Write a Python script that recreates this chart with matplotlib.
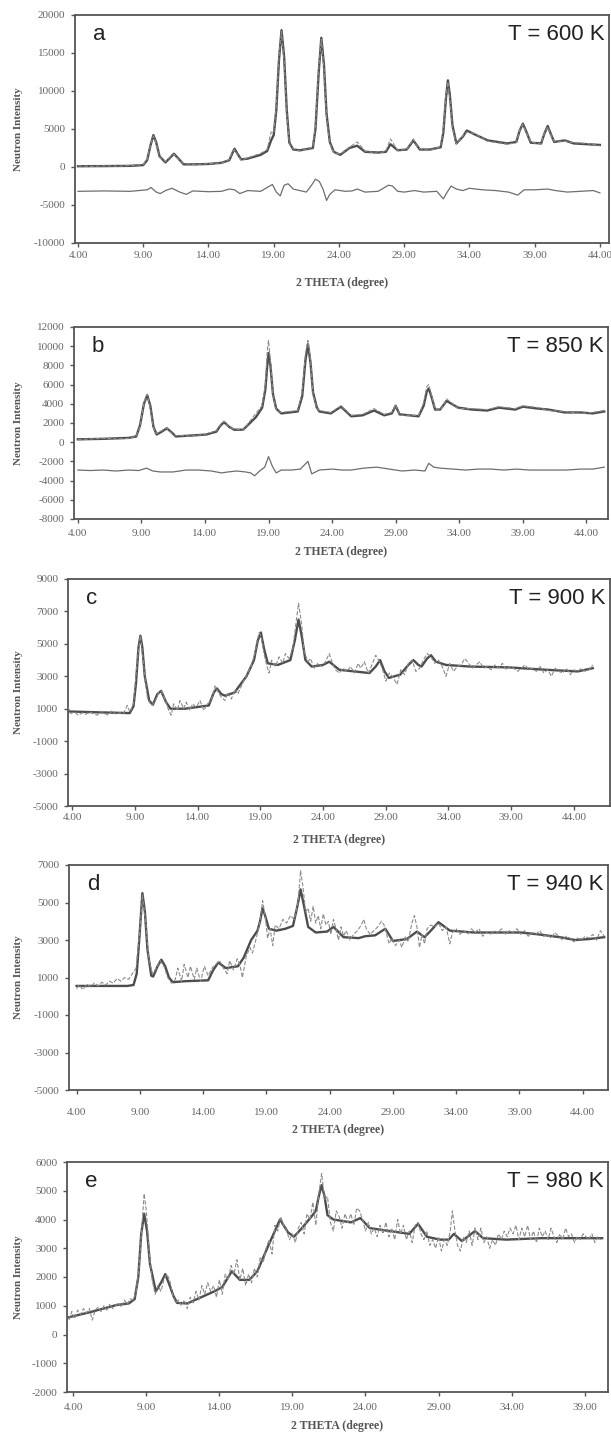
import matplotlib.pyplot as plt
from matplotlib.ticker import FuncFormatter

plt.rcParams['font.family'] = ['Liberation Serif', 'DejaVu Serif']
plt.rcParams['axes.unicode_minus'] = False

# ---------------- panel a : T = 600 K ----------------  (2theta, intensity) pairs
a_calc = [(4.0, 100), (6.0, 120), (8.0, 150), (9.0, 250), (9.3, 900), (9.55, 2800), (9.78, 4200),
          (10.0, 3200), (10.25, 1400), (10.7, 600), (11.05, 1200), (11.35, 1750), (11.7, 1100),
          (12.1, 350), (13.0, 350), (14.0, 400), (15.0, 550), (15.6, 900), (15.85, 1900), (16.0, 2400),
          (16.2, 1800), (16.5, 1000), (17.0, 1100), (18.0, 1600), (18.5, 2100), (18.8, 3500),
          (19.0, 4200), (19.2, 7500), (19.4, 14000), (19.6, 18000), (19.8, 14500), (20.0, 7500),
          (20.2, 3200), (20.5, 2300), (21.0, 2200), (22.0, 2500), (22.2, 5000), (22.45, 12500),
          (22.65, 17000), (22.85, 13500), (23.05, 7000), (23.3, 3300), (23.6, 2000), (24.1, 1600),
          (24.8, 2500), (25.4, 2800), (26.0, 2000), (27.0, 1900), (27.6, 2000), (27.95, 3000),
          (28.5, 2200), (29.2, 2300), (29.5, 3000), (29.7, 3500), (29.95, 2900), (30.2, 2300),
          (31.0, 2300), (31.8, 2600), (32.0, 4500), (32.2, 9000), (32.35, 11400), (32.5, 9500),
          (32.7, 5500), (33.0, 3100), (33.5, 4000), (33.8, 4800), (34.4, 4300), (35.4, 3500),
          (36.9, 3100), (37.6, 3300), (37.85, 4800), (38.1, 5700), (38.35, 4700), (38.7, 3200),
          (39.5, 3100), (39.75, 4400), (40.0, 5400), (40.25, 4300), (40.5, 3300), (41.3, 3500),
          (42.0, 3100), (43.0, 3000), (44.0, 2900)]
a_obs = [(4.0, 150), (5.0, 80), (6.0, 150), (7.0, 100), (8.0, 200), (9.0, 300), (9.3, 1000),
         (9.55, 2900), (9.78, 4100), (10.0, 3100), (10.25, 1300), (10.7, 700), (11.05, 1300),
         (11.35, 1700), (11.7, 1000), (12.1, 450), (13.0, 300), (14.0, 450), (15.0, 500), (15.6, 1000),
         (15.85, 2000), (16.0, 2300), (16.2, 1700), (16.5, 900), (17.0, 1200), (18.0, 1800),
         (18.5, 2300), (18.8, 4600), (19.0, 4500), (19.2, 8000), (19.4, 14500), (19.6, 17800),
         (19.8, 14000), (20.0, 7300), (20.2, 3000), (20.5, 2400), (21.0, 2100), (22.0, 2600),
         (22.2, 5400), (22.45, 13000), (22.65, 16800), (22.85, 13000), (23.05, 6500), (23.3, 3100),
         (23.6, 1900), (24.1, 1700), (24.8, 2600), (25.4, 3300), (26.0, 2100), (27.0, 1800),
         (27.6, 2100), (27.95, 3700), (28.5, 2200), (29.2, 2300), (29.5, 3100), (29.7, 3700),
         (29.95, 2800), (30.2, 2400), (31.0, 2200), (31.8, 2700), (32.0, 5000), (32.2, 9400),
         (32.35, 11200), (32.5, 9000), (32.7, 5200), (33.0, 3000), (33.5, 4100), (33.8, 4600),
         (34.4, 4400), (35.4, 3400), (36.9, 3000), (37.6, 3200), (37.85, 4900), (38.1, 5600),
         (38.35, 4600), (38.7, 3300), (39.5, 3000), (39.75, 4500), (40.0, 5300), (40.25, 4200),
         (40.5, 3400), (41.3, 3400), (42.0, 3200), (43.0, 3100), (44.0, 2800)]
a_diff = [(4.0, -3200), (6.0, -3150), (8.0, -3200), (9.3, -3000), (9.6, -2700), (10.0, -3300),
          (10.3, -3500), (10.7, -3100), (11.2, -2800), (11.8, -3300), (12.3, -3600), (12.8, -3150),
          (14.0, -3250), (15.0, -3200), (15.6, -2900), (16.0, -3000), (16.4, -3500), (17.0, -3100),
          (18.0, -3200), (18.6, -2600), (18.9, -2300), (19.2, -3300), (19.5, -3800), (19.8, -2400),
          (20.1, -2200), (20.5, -2900), (21.0, -3100), (21.5, -3300), (21.9, -2400), (22.2, -1600),
          (22.5, -1900), (22.8, -3000), (23.05, -4400), (23.3, -3600), (23.7, -3000), (24.5, -3200),
          (25.0, -3150), (25.4, -2900), (26.0, -3300), (27.0, -3200), (27.8, -2400), (28.1, -2500),
          (28.5, -3200), (29.0, -3300), (29.8, -3100), (30.5, -3300), (31.5, -3200), (32.0, -4200),
          (32.3, -3300), (32.6, -2500), (33.0, -2900), (33.5, -3100), (34.0, -2800), (35.0, -3000),
          (36.0, -3100), (37.0, -3300), (37.7, -3700), (38.2, -3000), (39.0, -3000), (40.0, -2900),
          (40.6, -3100), (41.5, -3300), (42.5, -3200), (43.5, -3100), (44.0, -3400)]

# ---------------- panel b : T = 850 K ----------------
b_calc = [(4.0, 300), (6.0, 350), (8.0, 450), (8.6, 600), (8.9, 1800), (9.2, 4000), (9.46, 4900),
          (9.7, 3800), (9.95, 1600), (10.2, 800), (10.6, 1100), (11.0, 1450), (11.4, 1000), (11.7, 600),
          (13.0, 700), (14.1, 800), (14.9, 1100), (15.2, 1700), (15.5, 2100), (15.9, 1600), (16.3, 1300),
          (17.0, 1300), (18.0, 2600), (18.5, 3600), (18.75, 5500), (18.9, 8000), (19.0, 9300),
          (19.15, 8000), (19.35, 5000), (19.6, 3500), (20.0, 3000), (21.3, 3200), (21.65, 4800),
          (21.9, 8500), (22.1, 10200), (22.3, 8300), (22.5, 5200), (22.8, 3600), (23.0, 3200),
          (23.9, 3000), (24.7, 3700), (25.5, 2700), (26.4, 2800), (27.3, 3300), (28.1, 2800),
          (28.7, 3000), (29.0, 3800), (29.3, 2900), (30.8, 2700), (31.2, 3800), (31.45, 5300),
          (31.6, 5600), (31.8, 4800), (32.1, 3400), (32.5, 3400), (33.0, 4300), (33.4, 4000),
          (33.9, 3600), (35.0, 3400), (36.2, 3300), (37.1, 3600), (38.4, 3400), (39.0, 3700),
          (40.2, 3500), (41.0, 3400), (42.3, 3100), (43.5, 3100), (44.5, 3000), (45.4, 3200)]
b_obs = [(4.0, 250), (5.0, 350), (6.0, 400), (7.0, 350), (8.0, 400), (8.6, 650), (8.9, 1700),
         (9.2, 4100), (9.46, 5000), (9.7, 3600), (9.95, 1500), (10.2, 900), (10.6, 1200), (11.0, 1500),
         (11.4, 900), (11.7, 700), (13.0, 650), (14.1, 850), (14.9, 1200), (15.2, 1800), (15.5, 2200),
         (15.9, 1500), (16.3, 1400), (17.0, 1250), (18.0, 3000), (18.5, 3800), (18.75, 6000),
         (18.9, 9500), (19.0, 10600), (19.15, 8500), (19.35, 4800), (19.6, 3400), (20.0, 3100),
         (21.3, 3300), (21.65, 5200), (21.9, 9200), (22.1, 10600), (22.3, 8600), (22.5, 5000),
         (22.8, 3500), (23.0, 3300), (23.9, 3100), (24.7, 3800), (25.5, 2800), (26.4, 2900),
         (27.3, 3500), (28.1, 2900), (28.7, 3100), (29.0, 3900), (29.3, 2800), (30.8, 2800),
         (31.2, 4100), (31.45, 5800), (31.6, 6000), (31.8, 5000), (32.1, 3500), (32.5, 3300),
         (33.0, 4500), (33.4, 4100), (33.9, 3500), (35.0, 3500), (36.2, 3400), (37.1, 3700),
         (38.4, 3500), (39.0, 3800), (40.2, 3600), (41.0, 3300), (42.3, 3200), (43.5, 3000),
         (44.5, 3100), (45.4, 3300)]
b_diff = [(4.0, -2900), (5.0, -2950), (6.0, -2900), (7.0, -3000), (8.0, -2900), (8.8, -2950),
          (9.4, -2700), (9.9, -3000), (10.5, -3100), (11.5, -3100), (12.5, -2900), (13.5, -2900),
          (14.5, -3000), (15.3, -3200), (15.8, -3100), (16.5, -3000), (17.2, -3100), (17.6, -3200),
          (17.9, -3500), (18.3, -3000), (18.7, -2600), (19.0, -1500), (19.3, -2500), (19.6, -3200),
          (20.0, -2900), (20.8, -2900), (21.5, -2800), (22.1, -2000), (22.4, -3300), (23.0, -2900),
          (24.0, -2800), (24.8, -2900), (25.5, -2900), (26.5, -2700), (27.5, -2600), (28.5, -2800),
          (29.5, -3000), (30.5, -2900), (31.3, -3000), (31.6, -2200), (32.0, -2600), (32.5, -2700),
          (33.5, -2800), (34.5, -2900), (35.5, -2800), (36.5, -2800), (37.5, -2900), (38.5, -2800),
          (39.5, -2900), (40.5, -2900), (41.5, -2900), (42.5, -2900), (43.5, -2800), (44.5, -2800),
          (45.4, -2600)]

# ---------------- panel c : T = 900 K ----------------
c_calc = [(3.7, 830), (6.0, 780), (8.6, 730), (8.9, 1150), (9.1, 2600), (9.3, 4800), (9.45, 5500),
          (9.6, 4800), (9.8, 3000), (10.15, 1500), (10.45, 1250), (10.8, 1900), (11.1, 2100),
          (11.5, 1400), (11.85, 1000), (13.0, 1000), (14.9, 1200), (15.3, 2000), (15.55, 2250),
          (15.9, 1900), (16.2, 1800), (16.95, 2000), (17.9, 3000), (18.5, 4000), (18.8, 5200),
          (19.05, 5700), (19.3, 4700), (19.6, 3800), (20.4, 3700), (21.4, 4000), (21.75, 5200),
          (22.05, 6500), (22.3, 5500), (22.6, 4000), (23.1, 3600), (24.0, 3700), (24.5, 3900),
          (25.3, 3400), (26.5, 3300), (27.7, 3200), (28.2, 3600), (28.55, 4000), (28.9, 3300),
          (29.25, 2900), (30.15, 3100), (30.8, 3700), (31.2, 4000), (31.6, 3700), (31.85, 3600),
          (32.3, 4100), (32.6, 4300), (33.0, 3900), (33.8, 3700), (35.7, 3600), (38.75, 3550),
          (41.8, 3400), (44.3, 3300), (45.5, 3500)]
c_obs_x = [3.7, 3.9, 4.2, 4.5, 4.8, 5.1, 5.4, 5.7, 6.0, 6.3, 6.6, 6.9, 7.2, 7.5, 7.8, 8.1, 8.4, 8.6,
           8.9, 9.2, 9.45, 9.7, 10.0, 10.3, 10.6, 10.9, 11.1, 11.4, 11.7, 11.9, 12.1, 12.4, 12.6, 12.9,
           13.1, 13.4, 13.6, 13.9, 14.2, 14.5, 14.8, 15.1, 15.4, 15.6, 15.9, 16.2, 16.4, 16.7, 17.0,
           17.2, 17.5, 17.8, 18.0, 18.3, 18.6, 18.9, 19.1, 19.3, 19.5, 19.7, 19.9, 20.2, 20.5, 20.8,
           21.0, 21.3, 21.6, 21.8, 22.05, 22.3, 22.5, 22.8, 23.0, 23.3, 23.6, 23.9, 24.2, 24.5, 24.8,
           25.0, 25.3, 25.6, 25.9, 26.2, 26.5, 26.8, 27.0, 27.3, 27.6, 27.9, 28.2, 28.5, 28.8, 29.0,
           29.3, 29.6, 29.9, 30.2, 30.5, 30.8, 31.1, 31.4, 31.7, 32.0, 32.3, 32.6, 32.9, 33.2, 33.5,
           33.8, 34.1, 34.4, 34.7, 35.0, 35.3, 35.6, 35.9, 36.2, 36.5, 36.8, 37.1, 37.4, 37.7, 38.0,
           38.3, 38.6, 38.9, 39.2, 39.5, 39.8, 40.1, 40.4, 40.7, 41.0, 41.3, 41.6, 41.9, 42.2, 42.5,
           42.8, 43.1, 43.4, 43.7, 44.0, 44.3, 44.6, 44.9, 45.2, 45.5]
c_obs_y = [1100, 700, 800, 600, 750, 650, 800, 700, 600, 850, 700, 600, 900, 650, 750, 700, 1200, 800,
           1300, 4000, 5500, 3800, 1700, 1200, 1400, 2000, 2100, 1600, 900, 600, 1300, 900, 1500, 1000,
           1400, 900, 1300, 1100, 1500, 900, 1300, 1500, 2400, 2100, 1700, 1500, 2000, 1600, 2200,
           1900, 2400, 2900, 3200, 3700, 4500, 5700, 5400, 4400, 3700, 3200, 4000, 3600, 4200, 3800,
           4400, 4100, 4700, 6000, 7500, 6200, 4500, 3900, 4100, 3500, 3800, 3600, 3900, 4400, 3700,
           3400, 3200, 3500, 3300, 3600, 3200, 3800, 3500, 3900, 3200, 3700, 4300, 3900, 3300, 2700,
           3200, 2900, 2500, 3400, 3100, 3800, 4000, 3300, 3500, 4000, 4400, 4200, 3800, 4000, 3600,
           3000, 3800, 3300, 3600, 3700, 4100, 3800, 3500, 3700, 3900, 3500, 3600, 3400, 3700, 3500,
           3800, 3400, 3600, 3500, 3300, 3500, 3700, 3400, 3500, 3300, 3600, 3200, 3400, 3000, 3500,
           3300, 3200, 3500, 3100, 3400, 3300, 3500, 3300, 3400, 3700]

# ---------------- panel d : T = 940 K ----------------
d_calc = [(4.0, 550), (6.0, 550), (8.0, 550), (8.5, 600), (8.75, 1200), (8.95, 3000), (9.2, 5500),
          (9.4, 4500), (9.6, 2500), (9.9, 1100), (10.05, 1050), (10.4, 1600), (10.7, 1950), (11.0, 1600),
          (11.3, 1000), (11.6, 750), (12.5, 800), (14.4, 850), (14.8, 1400), (15.2, 1800), (15.8, 1500),
          (16.75, 1600), (17.2, 2050), (17.8, 3000), (18.3, 3500), (18.5, 4000), (18.7, 4700),
          (18.9, 4300), (19.2, 3600), (19.8, 3500), (20.5, 3600), (21.1, 3750), (21.45, 4800),
          (21.7, 5700), (21.95, 4900), (22.3, 3700), (22.9, 3400), (23.8, 3450), (24.3, 3700),
          (25.1, 3150), (26.3, 3100), (26.8, 3200), (27.6, 3250), (28.4, 3600), (29.0, 2950),
          (30.1, 3050), (30.9, 3450), (31.5, 3150), (32.0, 3500), (32.6, 3950), (33.5, 3500),
          (35.4, 3400), (37.0, 3400), (39.1, 3400), (40.5, 3300), (42.2, 3150), (43.4, 3000),
          (44.5, 3050), (45.7, 3150)]
d_obs_x = [4.0, 4.2, 4.5, 4.8, 5.1, 5.4, 5.7, 6.0, 6.3, 6.6, 6.9, 7.2, 7.5, 7.8, 8.1, 8.4, 8.7, 9.0,
           9.2, 9.45, 9.7, 10.0, 10.3, 10.6, 10.9, 11.2, 11.5, 11.8, 12.0, 12.3, 12.5, 12.8, 13.0, 13.3,
           13.5, 13.8, 14.1, 14.4, 14.7, 15.0, 15.3, 15.6, 15.9, 16.1, 16.4, 16.7, 16.9, 17.1, 17.4,
           17.7, 17.9, 18.2, 18.5, 18.7, 18.9, 19.1, 19.3, 19.5, 19.7, 20.0, 20.3, 20.6, 20.9, 21.2,
           21.5, 21.7, 21.9, 22.1, 22.3, 22.5, 22.7, 22.9, 23.1, 23.3, 23.5, 23.7, 23.9, 24.1, 24.3,
           24.5, 24.7, 24.9, 25.1, 25.3, 25.6, 25.9, 26.2, 26.5, 26.7, 26.9, 27.2, 27.5, 27.8, 28.1,
           28.3, 28.5, 28.7, 28.9, 29.2, 29.5, 29.7, 30.0, 30.2, 30.5, 30.7, 30.9, 31.1, 31.3, 31.5,
           31.7, 32.0, 32.3, 32.6, 32.9, 33.2, 33.5, 33.7, 34.0, 34.3, 34.6, 34.9, 35.2, 35.5, 35.8,
           36.1, 36.4, 36.7, 37.0, 37.3, 37.6, 37.9, 38.2, 38.5, 38.8, 39.1, 39.4, 39.7, 40.0, 40.3,
           40.6, 40.9, 41.2, 41.5, 41.8, 42.1, 42.4, 42.7, 43.0, 43.3, 43.6, 43.9, 44.2, 44.5, 44.8,
           45.1, 45.4, 45.7]
d_obs_y = [400, 600, 350, 650, 500, 700, 550, 750, 600, 800, 700, 950, 800, 1000, 900, 1200, 1500, 3500,
           5400, 4000, 2000, 1200, 1500, 1900, 1600, 1000, 700, 900, 1500, 800, 1700, 1000, 1600, 900,
           1500, 800, 1600, 1100, 1500, 1700, 1900, 1500, 1200, 1900, 1400, 2000, 1700, 1000, 2100,
           2600, 2300, 3100, 4000, 5100, 4300, 3100, 3600, 2700, 3800, 3600, 4100, 3900, 4300, 4100,
           5000, 6700, 5800, 4500, 4700, 4000, 4800, 3900, 4300, 3600, 4400, 3800, 4000, 3300, 4100,
           3600, 3000, 3700, 3200, 3500, 3000, 3300, 3500, 3800, 4100, 3600, 3300, 3500, 3700, 4000,
           3800, 3300, 2800, 3100, 2700, 3000, 2600, 3200, 2900, 3900, 4300, 3700, 2600, 3300, 2800,
           3600, 3800, 3700, 3900, 3500, 3700, 2800, 3400, 3600, 3300, 3500, 3300, 3600, 3400, 3600,
           3200, 3400, 3300, 3500, 3400, 3600, 3300, 3500, 3400, 3600, 3300, 3500, 3200, 3400, 3300,
           3500, 3200, 3300, 3100, 3400, 3200, 3000, 3200, 3100, 2900, 3100, 3000, 3200, 3100, 3300,
           3000, 3500, 3200]

# ---------------- panel e : T = 980 K ----------------
e_calc = [(3.7, 600), (5.1, 770), (7.0, 1030), (7.8, 1080), (8.2, 1230), (8.45, 2000), (8.65, 3500),
          (8.85, 4200), (9.05, 3600), (9.25, 2450), (9.65, 1500), (10.0, 1800), (10.3, 2100),
          (10.6, 1700), (10.85, 1350), (11.1, 1100), (11.8, 1080), (13.65, 1500), (14.2, 1650),
          (14.85, 2200), (15.4, 1900), (16.05, 1900), (16.6, 2200), (17.4, 3150), (17.8, 3600),
          (18.15, 4000), (18.7, 3550), (19.1, 3400), (19.65, 3700), (20.3, 4100), (20.6, 4300),
          (20.8, 4800), (21.0, 5200), (21.2, 4800), (21.4, 4150), (21.8, 4000), (23.0, 3900),
          (23.65, 4050), (24.3, 3700), (25.65, 3600), (27.0, 3500), (27.6, 3850), (28.2, 3400),
          (29.1, 3300), (29.7, 3300), (30.05, 3500), (30.6, 3250), (31.5, 3600), (32.05, 3350),
          (33.65, 3300), (36.0, 3350), (38.0, 3350), (40.2, 3350)]
e_obs_x = [3.7, 3.9, 4.1, 4.3, 4.5, 4.7, 4.9, 5.1, 5.3, 5.5, 5.7, 5.9, 6.1, 6.3, 6.5, 6.7, 6.9, 7.1,
           7.3, 7.5, 7.7, 7.9, 8.1, 8.3, 8.5, 8.7, 8.85, 9.0, 9.2, 9.4, 9.6, 9.8, 10.0, 10.2, 10.4,
           10.6, 10.8, 11.0, 11.2, 11.4, 11.6, 11.8, 12.0, 12.2, 12.4, 12.6, 12.8, 13.0, 13.2, 13.4,
           13.6, 13.8, 14.0, 14.2, 14.4, 14.6, 14.8, 15.0, 15.2, 15.4, 15.6, 15.8, 16.0, 16.2, 16.4,
           16.6, 16.8, 17.0, 17.2, 17.4, 17.6, 17.8, 18.0, 18.2, 18.4, 18.6, 18.8, 19.0, 19.2, 19.4,
           19.6, 19.8, 20.0, 20.2, 20.4, 20.6, 20.8, 21.0, 21.2, 21.4, 21.6, 21.8, 22.0, 22.2, 22.4,
           22.6, 22.8, 23.0, 23.2, 23.4, 23.6, 23.8, 24.0, 24.2, 24.4, 24.6, 24.8, 25.0, 25.2, 25.4,
           25.6, 25.8, 26.0, 26.2, 26.4, 26.6, 26.8, 27.0, 27.2, 27.4, 27.6, 27.8, 28.0, 28.2, 28.4,
           28.6, 28.8, 29.0, 29.2, 29.4, 29.6, 29.8, 29.95, 30.1, 30.3, 30.5, 30.7, 30.9, 31.1, 31.3,
           31.5, 31.7, 31.9, 32.1, 32.3, 32.5, 32.7, 32.9, 33.1, 33.3, 33.5, 33.7, 33.9, 34.1, 34.3,
           34.5, 34.7, 34.9, 35.1, 35.3, 35.5, 35.7, 35.9, 36.1, 36.3, 36.5, 36.7, 36.9, 37.1, 37.3,
           37.5, 37.7, 37.9, 38.1, 38.3, 38.5, 38.7, 38.9, 39.1, 39.3, 39.5, 39.7, 39.9, 40.1]
e_obs_y = [500, 800, 550, 850, 700, 900, 750, 900, 500, 850, 950, 800, 1000, 850, 1050, 900, 1000, 1100,
           950, 1200, 1050, 1250, 1200, 1500, 2300, 3800, 4900, 4300, 2800, 1900, 1400, 1700, 1500,
           1900, 2100, 1900, 1400, 1100, 1200, 1000, 1200, 900, 1300, 1100, 1500, 1200, 1700, 1400,
           1800, 1500, 1700, 1300, 1900, 1400, 2100, 1900, 2400, 2100, 2600, 1900, 2300, 1700, 2100,
           1800, 2300, 2000, 2700, 2500, 3000, 3300, 2800, 3800, 3600, 4100, 3800, 3600, 3300, 3500,
           3200, 3700, 3900, 3500, 4200, 4000, 4600, 3800, 4900, 5600, 4700, 4800, 3900, 3600, 4300,
           4100, 3700, 4200, 3900, 4200, 3800, 4400, 4300, 4000, 3600, 3900, 3500, 3700, 3400, 3800,
           3500, 3900, 3400, 3700, 3300, 4000, 3500, 3800, 3300, 3600, 3200, 3800, 3900, 3500, 3300,
           3600, 3100, 3300, 3000, 3400, 2900, 3300, 3100, 3600, 4300, 3700, 3100, 2900, 3400, 3200,
           3600, 3100, 3700, 3300, 3700, 3200, 3400, 3000, 3300, 3100, 3500, 3300, 3600, 3400, 3700,
           3500, 3800, 3300, 3700, 3400, 3800, 3300, 3600, 3200, 3700, 3400, 3600, 3300, 3700, 3400,
           3200, 3500, 3300, 3700, 3400, 3500, 3200, 3400, 3300, 3500, 3400, 3300, 3500, 3200, 3400,
           3300]

panels = [
    dict(letter='a', temp='T = 600 K', calc=list(zip(*a_calc)), obs=list(zip(*a_obs)),
         diff=list(zip(*a_diff)), xlim=(3.77, 44.7), ylim=(-10000, 20000), ystep=5000,
         xticks=[4, 9, 14, 19, 24, 29, 34, 39, 44], box=(75, 15, 609, 243), tpad=3, xlab_y=34),
    dict(letter='b', temp='T = 850 K', calc=list(zip(*b_calc)), obs=list(zip(*b_obs)),
         diff=list(zip(*b_diff)), xlim=(3.7, 45.7), ylim=(-8000, 12000), ystep=2000,
         xticks=[4, 9, 14, 19, 24, 29, 34, 39, 44], box=(74, 327, 608, 519), tpad=4, xlab_y=27),
    dict(letter='c', temp='T = 900 K', calc=list(zip(*c_calc)), obs=(c_obs_x, c_obs_y),
         diff=None, xlim=(3.68, 46.87), ylim=(-5000, 9000), ystep=2000,
         xticks=[4, 9, 14, 19, 24, 29, 34, 39, 44], box=(68, 579, 610, 806), tpad=2, xlab_y=28),
    dict(letter='d', temp='T = 940 K', calc=list(zip(*d_calc)), obs=(d_obs_x, d_obs_y),
         diff=None, xlim=(3.4, 46.0), ylim=(-5000, 7000), ystep=2000,
         xticks=[4, 9, 14, 19, 24, 29, 34, 39, 44], box=(69, 865, 608, 1090), tpad=10, xlab_y=34),
    dict(letter='e', temp='T = 980 K', calc=list(zip(*e_calc)), obs=(e_obs_x, e_obs_y),
         diff=None, xlim=(3.57, 40.6), ylim=(-2000, 6000), ystep=1000,
         xticks=[4, 9, 14, 19, 24, 29, 34, 39], box=(67, 1162, 608, 1392), tpad=5, xlab_y=28),
]

W, H = 611, 1432
fig = plt.figure(figsize=(W / 100, H / 100), dpi=100)
grey = '#555555'

for p in panels:
    x0, y0, x1, y1 = p['box']
    ax = fig.add_axes([x0 / W, 1 - y1 / H, (x1 - x0) / W, (y1 - y0) / H])
    ax.plot(*p['calc'], '-', color='#4d4d4d', lw=1.7, zorder=2)
    ax.plot(*p['obs'], '--', color='#8c8c8c', lw=0.8, zorder=3)
    if p['diff'] is not None:
        ax.plot(*p['diff'], '-', color='#6e6e6e', lw=0.9, zorder=2)

    ax.set_xlim(*p['xlim'])
    ax.set_ylim(*p['ylim'])
    lo, hi = p['ylim']
    ax.set_yticks(list(range(lo, hi + 1, p['ystep'])))
    ax.set_xticks(p['xticks'])
    ax.xaxis.set_major_formatter(FuncFormatter(lambda v, pos: '%.2f' % v))
    ax.tick_params(axis='both', direction='out', length=3, width=1, color=grey,
                   labelsize=8, labelcolor='#666666')
    ax.tick_params(axis='x', pad=p['tpad'])
    ax.tick_params(axis='y', pad=4)
    for s in ax.spines.values():
        s.set_color(grey)
        s.set_linewidth(1.3)

    ax.set_xlabel('2 THETA (degree)', fontsize=8.5, fontweight='bold', color=grey)
    ax.xaxis.set_label_coords(0.5, -p['xlab_y'] / (y1 - y0))
    ax.set_ylabel('Neutron Intensity', fontsize=8, fontweight='bold', color=grey)
    ax.yaxis.set_label_coords((23 - x0) / (x1 - x0), 0.5)

    ax.annotate(p['letter'], xy=(0, 1), xycoords='axes fraction', xytext=(13, -14),
                textcoords='offset points', ha='left', va='center', fontsize=16,
                family='Liberation Sans', color='#222222')
    ax.annotate(p['temp'], xy=(1, 1), xycoords='axes fraction', xytext=(-3, -14),
                textcoords='offset points', ha='right', va='center', fontsize=16,
                family='Liberation Sans', color='#222222')

plt.savefig('out.png', dpi=100)
